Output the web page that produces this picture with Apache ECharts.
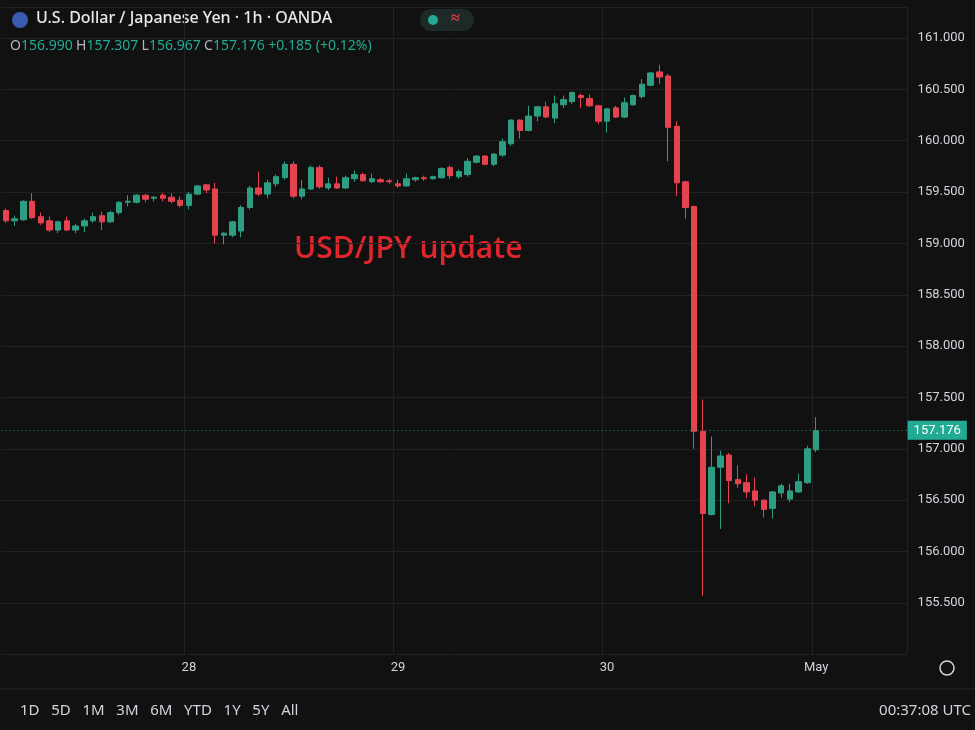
<!DOCTYPE html>
<html><head><meta charset="utf-8">
<script src="https://cdn.jsdelivr.net/npm/echarts@6/dist/echarts.min.js"></script>
<style>html,body{margin:0;background:#111111;}#c{width:975px;height:730px;}</style>
</head><body><div id="c"></div>
<script>
// OHLC per hourly candle
const opens = [159.32,159.22,159.23,159.41,159.26,159.22,159.13,159.22,159.13,159.17,159.22,159.27,159.21,159.30,159.40,159.40,159.47,159.44,159.47,159.45,159.42,159.37,159.48,159.57,159.53,159.08,159.08,159.12,159.35,159.54,159.48,159.58,159.64,159.77,159.46,159.53,159.74,
159.54,159.58,159.54,159.63,159.67,159.60,159.62,159.61,159.58,159.56,159.62,159.64,159.63,159.64,159.74,159.65,159.67,159.79,159.85,159.77,159.86,159.97,160.20,160.10,160.24,160.33,160.22,160.35,160.38,160.44,160.41,160.34,160.19,160.32,160.23,160.35,160.43,160.54,
160.67,160.63,160.14,159.60,159.36,157.17,156.36,156.82,156.94,156.70,156.67,156.59,156.50,156.42,156.57,156.51,156.58,156.67,156.99];
const closes = [159.22,159.24,159.41,159.25,159.20,159.13,159.21,159.13,159.17,159.22,159.26,159.21,159.30,159.40,159.41,159.47,159.43,159.45,159.44,159.41,159.37,159.48,159.56,159.52,159.08,159.10,159.21,159.35,159.54,159.48,159.59,159.65,159.77,159.46,159.53,159.74,159.55,
159.58,159.54,159.64,159.67,159.61,159.63,159.60,159.60,159.56,159.63,159.64,159.63,159.65,159.73,159.66,159.70,159.80,159.85,159.77,159.87,159.99,160.20,160.10,160.24,160.33,160.23,160.36,160.40,160.47,160.42,160.34,160.19,160.31,160.23,160.37,160.44,160.55,160.66,
160.62,160.13,159.59,159.35,157.17,156.37,156.82,156.93,156.69,156.66,156.58,156.50,156.41,156.58,156.64,156.59,156.68,157.00,157.176];
const highs = [159.34,159.27,159.42,159.49,159.30,159.26,159.22,159.26,159.19,159.24,159.30,159.31,159.32,159.41,159.47,159.48,159.48,159.46,159.49,159.49,159.46,159.50,159.57,159.58,159.59,159.11,159.22,159.37,159.56,159.70,159.62,159.67,159.80,159.80,159.62,159.76,159.76,
159.64,159.65,159.66,159.71,159.69,159.68,159.64,159.63,159.62,159.68,159.65,159.66,159.66,159.74,159.76,159.72,159.83,159.86,159.86,159.88,160.02,160.21,160.21,160.34,160.34,160.38,160.44,160.44,160.48,160.46,160.45,160.35,160.32,160.34,160.42,160.45,160.60,160.67,
160.74,160.65,160.19,159.61,159.37,157.48,157.12,156.98,156.96,156.84,156.75,156.72,156.51,156.59,156.66,156.66,156.76,157.03,157.307];
const lows = [159.20,159.17,159.22,159.24,159.18,159.11,159.10,159.12,159.10,159.11,159.20,159.13,159.20,159.28,159.36,159.39,159.40,159.41,159.41,159.39,159.35,159.33,159.47,159.49,159.00,158.99,159.06,159.06,159.33,159.46,159.44,159.55,159.62,159.44,159.43,159.52,159.53,
159.52,159.53,159.53,159.60,159.60,159.59,159.59,159.58,159.54,159.55,159.60,159.61,159.62,159.63,159.63,159.63,159.65,159.78,159.76,159.75,159.84,159.95,160.02,160.09,160.19,160.22,160.17,160.32,160.36,160.32,160.33,160.16,160.08,160.22,160.22,160.34,160.41,160.53,
160.55,159.80,159.46,159.24,157.00,155.57,156.35,156.22,156.47,156.62,156.52,156.44,156.33,156.32,156.52,156.48,156.57,156.66,156.967];
const dayLabels = {21:'28',45:'29',69:'30',93:'May'};
const lastPrice = 157.176;
const extraSlots = 10;

const UP='#2e9e82', DOWN='#e5434f';
const cats = [], data = [];
for (let i=0;i<opens.length+extraSlots;i++){
  cats.push(String(i));
  if (i<opens.length) data.push([opens[i],closes[i],lows[i],highs[i]]);
}
const chart = echarts.init(document.getElementById('c'));
chart.setOption({
  backgroundColor:'#111111',
  animation:false,
  grid:{left:1.6,right:67.4,top:7.2,height:647},
  xAxis:{type:'category',data:cats,boundaryGap:true,
    axisLine:{show:false},axisTick:{show:false},
    axisLabel:{interval:(i)=>dayLabels[i]!==undefined,formatter:(v,i)=>dayLabels[i]||'',color:'#d1d4dc',fontSize:13,fontFamily:'Roboto',margin:7},
    splitLine:{show:true,interval:(i)=>dayLabels[i]!==undefined,lineStyle:{color:'#222222'}}},
  yAxis:{type:'value',position:'right',min:155,max:161.3,interval:0.5,
    axisLine:{show:false},axisTick:{show:false},
    axisLabel:{showMinLabel:false,showMaxLabel:false,formatter:v=>v.toFixed(3),color:'#d1d4dc',fontSize:13,fontFamily:'Roboto',margin:10},
    splitLine:{lineStyle:{color:'#222222'}}},
  series:[{type:'candlestick',data:data,barWidth:'68%',
    itemStyle:{color:UP,color0:DOWN,borderColor:UP,borderColor0:DOWN,borderWidth:1},
    markLine:{symbol:'none',silent:true,
      data:[{yAxis:lastPrice}],
      lineStyle:{color:UP,type:[1,3],width:1},
      label:{position:'end',formatter:lastPrice.toFixed(3),backgroundColor:'#22ab94',color:'#ffffff',fontSize:13,fontFamily:'Roboto',padding:[3,6,3,6],distance:0}}}],
  graphic:[
    {type:'circle',shape:{cx:20,cy:20,r:8},style:{fill:'#3a5bb0'}},
    {type:'text',left:36,top:10,style:{text:'U.S. Dollar / Japanese Yen · 1h · OANDA',fill:'#e8e8e8',font:'500 16px "Noto Sans"'}},
    {type:'rect',shape:{x:420,y:9,width:54,height:22,r:11},style:{fill:'#1e2a27'}},
    {type:'circle',shape:{cx:433,cy:20,r:5},style:{fill:'#22ab94'}},
    {type:'text',left:451,top:10,style:{text:'≈',fill:'#e5434f',font:'bold 16px "Noto Sans"'}},
    {type:'text',left:10,top:39,style:{rich:{g:{fill:'#b2b5be',font:'14px "Noto Sans"'},v:{fill:'#22ab94',font:'14px "Noto Sans"'}},
      text:'{g|O}{v|156.990} {g|H}{v|157.307} {g|L}{v|156.967} {g|C}{v|157.176 +0.185 (+0.12%)}'}},
    {type:'text',left:294,top:234,style:{text:'USD/JPY update',fill:'#e0262c',font:'600 30px "Open Sans"'}},
    {type:'circle',shape:{cx:947,cy:668,r:7},style:{fill:'none',stroke:'#d1d4dc',lineWidth:1.5}},
    {type:'line',shape:{x1:0,y1:689,x2:975,y2:689},style:{stroke:'#2a2a2a',lineWidth:1}},
    {type:'text',left:20,top:703,style:{text:'1D   5D   1M   3M   6M   YTD   1Y   5Y   All',fill:'#d1d4dc',font:'15px "Noto Sans"'}},
    {type:'text',right:4,top:703,style:{text:'00:37:08 UTC',fill:'#d1d4dc',font:'15px "Noto Sans"'}}
  ]
});
</script></body></html>
